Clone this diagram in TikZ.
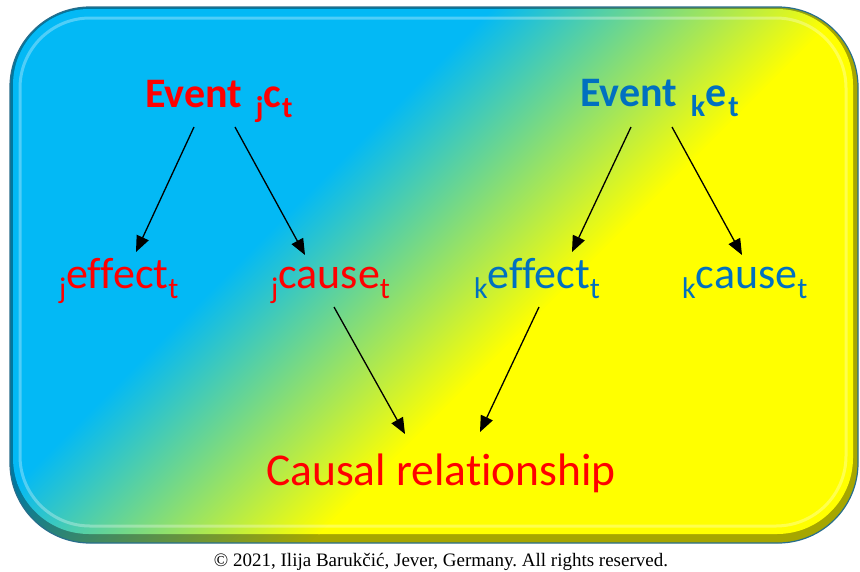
\documentclass[tikz,border=0pt]{standalone}
\usepackage{fontspec}
\setmainfont[Ligatures={NoCommon}]{Carlito}
\newfontfamily\copyfont{Liberation Serif}
\usetikzlibrary{arrows.meta,calc}
\definecolor{cblue}{RGB}{3,185,245}
\definecolor{cyellow}{RGB}{255,255,0}
\definecolor{cred}{RGB}{255,0,0}
\definecolor{cdblue}{RGB}{0,112,192}
\definecolor{cedge}{RGB}{40,110,140}
\newcommand{\gradfill}{%
  \begin{scope}[transform canvas={shift={(412,265)},rotate=-45}]
    \fill[cblue] (-2000,-2000) rectangle (-124,2000);
    \shade[left color=cblue,right color=cyellow] (-125,-2000) rectangle (125,2000);
    \fill[cyellow] (124,-2000) rectangle (2000,2000);
  \end{scope}}
\newcommand{\subtx}[1]{\raisebox{-10pt}{\fontsize{30}{30}\selectfont #1}}
\begin{document}
\frenchspacing
\begin{tikzpicture}[x=1pt,y=-1pt,
  evt/.style={font=\fontsize{42}{42}\selectfont\bfseries, inner sep=0pt, anchor=base west},
  lbl/.style={font=\fontsize{44}{44}\selectfont, inner sep=0pt, anchor=base west},
  arr/.style={-{Triangle[length=16pt,width=13pt]}, line width=1.3pt, black}]
\useasboundingbox (0,0) rectangle (860,571);
\fill[white] (0,0) rectangle (860,571);
% bevelled panel
\begin{scope}
  \clip[rounded corners=80pt] (10,7) rectangle (858,543);
  \gradfill
  \fill[black,opacity=0.35] (0,0) rectangle (860,571);
\end{scope}
\begin{scope}
  \clip[rounded corners=76pt] (13,9) rectangle (853,534);
  \gradfill
\end{scope}
\draw[white,opacity=0.3,line width=3pt,rounded corners=70pt] (20,18) rectangle (846,526);
\draw[cedge,line width=1.2pt,rounded corners=80pt] (10,7) rectangle (858,543);
% texts
\node[evt,text=cred] (ej) at (145,107) {Event\hspace{14pt}\subtx{j}c\hspace{1pt}\subtx{t}};
\node[evt,text=cdblue] (ek) at (580,106) {Event\hspace{14pt}\subtx{k}e\hspace{2pt}\subtx{t}};
\node[lbl,text=cred] (jeff) at (59,288) {\subtx{j}effect\subtx{t}};
\node[lbl,text=cred] (jcau) at (271,288) {\subtx{j}cause\subtx{t}};
\node[lbl,text=cdblue] (keff) at (474,288) {\subtx{k}effect\subtx{t}};
\node[lbl,text=cdblue] (kcau) at (682,288) {\subtx{k}cause\subtx{t}};
\node[inner sep=0pt,anchor=base west,text=cred,font=\fontsize{45.5}{45.5}\selectfont] (causal) at (266,485) {Causal relationship};
\node[anchor=base,inner sep=0pt,font=\copyfont\fontsize{19}{19}\selectfont] (copy) at (441,566) {© 2021, Ilija Barukčić, Jever, Germany. All rights reserved.};
% arrows
\draw[arr] ([shift={(49,20)}]ej.base west) -- ([shift={(77,-36)}]jeff.base west);
\draw[arr] ([shift={(90,20)}]ej.base west) -- ([shift={(34,-33)}]jcau.base west);
\draw[arr] ([shift={(51,21)}]ek.base west) -- ([shift={(98,-36)}]keff.base west);
\draw[arr] ([shift={(92,21)}]ek.base west) -- ([shift={(60,-33)}]kcau.base west);
\draw[arr] ([shift={(63,19)}]jcau.base west) -- ([shift={(139,-51)}]causal.base west);
\draw[arr] ([shift={(65,19)}]keff.base west) -- ([shift={(214,-53)}]causal.base west);
\end{tikzpicture}
\end{document}
